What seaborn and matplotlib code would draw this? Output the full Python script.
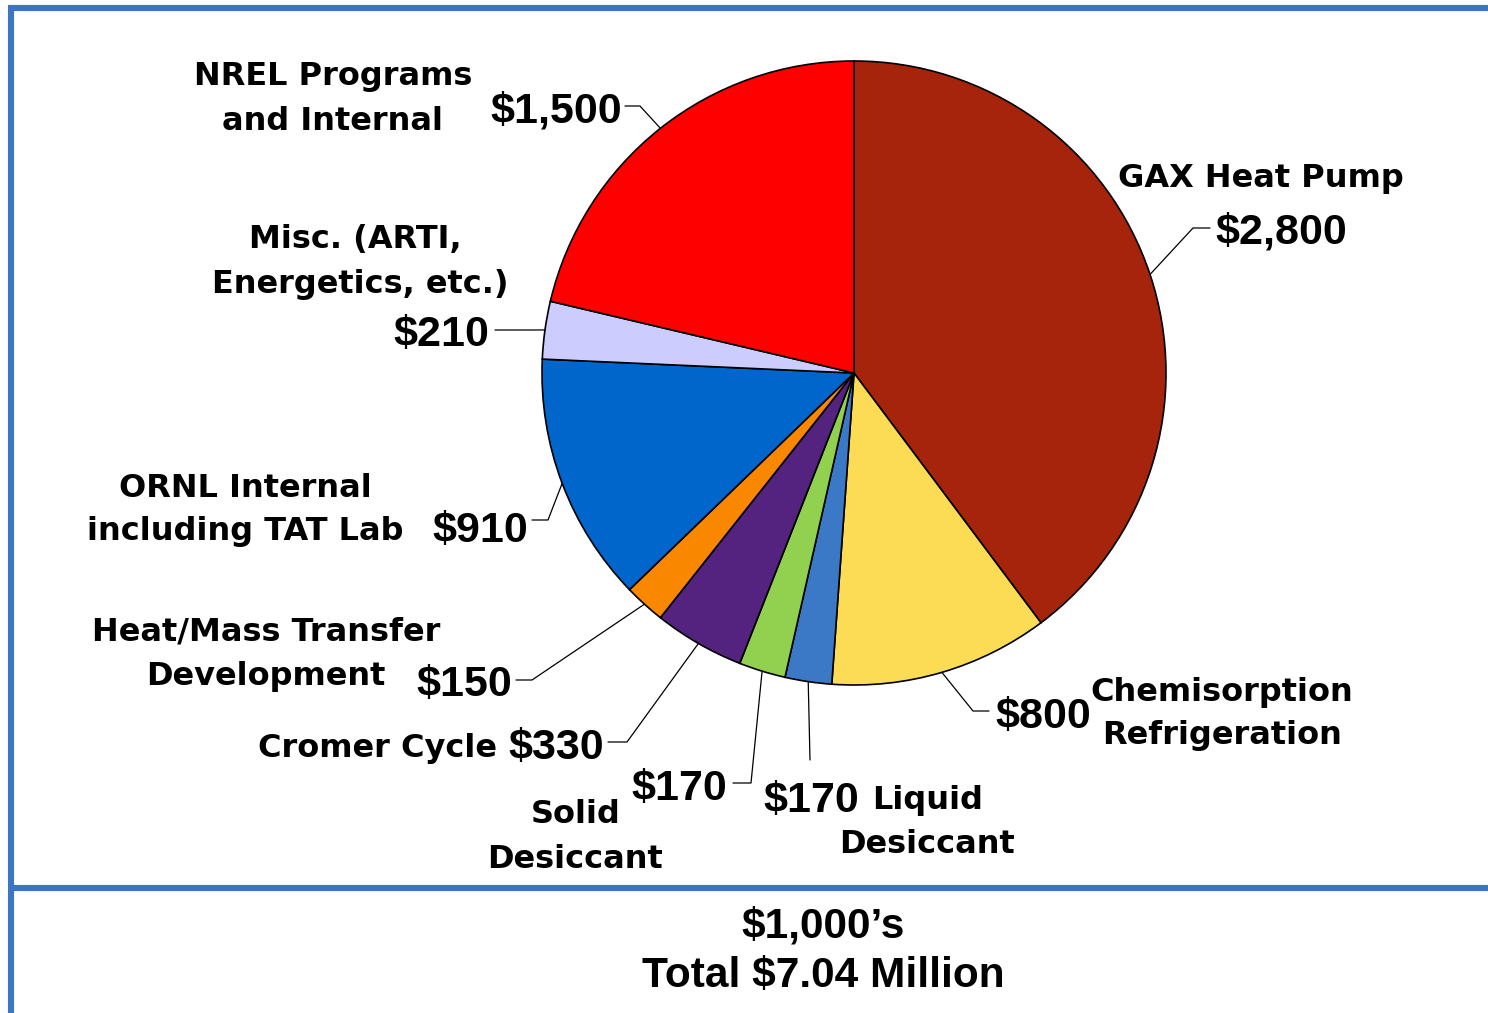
import numpy as np
import matplotlib
matplotlib.use("Agg")
import matplotlib.pyplot as plt
import seaborn as sns

# --- data (in $1,000's) ---
categories = ["GAX Heat Pump", "Chemisorption Refrigeration", "Liquid Desiccant",
              "Solid Desiccant", "Cromer Cycle", "Heat/Mass Transfer Development",
              "ORNL Internal including TAT Lab", "Misc. (ARTI, Energetics, etc.)",
              "NREL Programs and Internal"]
values = [2800, 800, 170, 170, 330, 150, 910, 210, 1500]
name_lines = [["GAX Heat Pump"],
              ["Chemisorption", "Refrigeration"],
              ["Liquid", "Desiccant"],
              ["Solid", "Desiccant"],
              ["Cromer Cycle"],
              ["Heat/Mass Transfer", "Development"],
              ["ORNL Internal", "including TAT Lab"],
              ["Misc. (ARTI,", "Energetics, etc.)"],
              ["NREL Programs", "and Internal"]]
colors = ["#A6240B", "#FDDC55", "#3B78C6", "#92D14F", "#54237F",
          "#F98800", "#0066CC", "#CCCCFF", "#FF0000"]
unit_text = "$1,000\u2019s"
total_text = "Total $7.04 Million"

# --- layout (pixel coords, y down) ---
W, H = 1488, 1013
cx, cy, r = 854, 373, 312
# value label: x, baseline, ha ; leader: elbow, end
value_pos = [(1215, 243, "left"), (995, 728, "left"), (763, 812, "left"),
             (727, 800, "right"), (604, 759, "right"), (512, 696, "right"),
             (528, 542, "right"), (489, 346, "right"), (622, 122, "right")]
leader_pts = [[(1193, 228), (1210, 228)], [(973, 711), (989, 711)],
              [(810, 760), (810, 760)], [(751, 783), (733, 783)],
              [(627, 742), (608, 742)], [(532, 680), (516, 680)],
              [(548, 520), (532, 520)], [(520, 330), (495, 330)],
              [(640, 106), (625, 106)]]
# name lines: (x, baseline) per line, ha
name_pos = [([(1261, 187)], "center"),
            ([(1222, 701), (1222, 744)], "center"),
            ([(928, 809), (927, 853)], "center"),
            ([(576, 823), (575, 868)], "center"),
            ([(497, 757)], "right"),
            ([(266, 640), (266, 685)], "center"),
            ([(245, 497), (245, 540)], "center"),
            ([(355, 248), (360, 293)], "center"),
            ([(333, 85), (333, 130)], "center")]

sns.set_theme(style="white")
plt.rcParams["font.family"] = ["DejaVu Sans"]
plt.rcParams["text.color"] = "black"

fig = plt.figure(figsize=(W / 100, H / 100), dpi=100)
ax = fig.add_axes([0, 0, 1, 1])
pal = sns.color_palette(colors)

wedges, _ = ax.pie(values, colors=pal, startangle=-90, counterclock=True,
                   center=(cx, cy), radius=r, frame=True,
                   wedgeprops=dict(edgecolor="black", linewidth=1.2))
ax.set_xlim(0, W)
ax.set_ylim(H, 0)
ax.set_aspect("equal")
ax.axis("off")

for i, w in enumerate(wedges):
    mid = np.deg2rad((w.theta1 + w.theta2) / 2)
    x0, y0 = cx + r * np.cos(mid), cy + r * np.sin(mid)
    (ex, ey), (fx, fy) = leader_pts[i]
    ax.plot([x0, ex, fx], [y0, ey, fy], color="black", lw=0.9, zorder=3)

    vx, vy, vha = value_pos[i]
    ax.text(vx, vy, "$" + f"{values[i]:,}", ha=vha, va="baseline", color="black",
            fontsize=31, fontweight="bold", family="Liberation Sans")
    pts, nha = name_pos[i]
    for line, (nx, ny) in zip(name_lines[i], pts):
        ax.text(nx, ny, line, ha=nha, va="baseline", fontsize=23, color="black",
                fontweight="bold", family="DejaVu Sans")

# bottom caption
ax.text(823, 937, unit_text, ha="center", va="baseline", fontsize=30.5,
        color="black", fontweight="bold", family="Liberation Sans")
ax.text(823, 987, total_text, ha="center", va="baseline", fontsize=30.5,
        color="black", fontweight="bold", family="Liberation Sans")

# blue frame lines
frame_c = "#3A76C4"
ax.plot([11, 11], [5, H], color=frame_c, lw=4.4, solid_capstyle="butt", clip_on=False)
ax.plot([8, W], [8, 8], color=frame_c, lw=4.4, solid_capstyle="butt", clip_on=False)
ax.plot([14, W], [888, 888], color=frame_c, lw=4.4, solid_capstyle="butt", clip_on=False)

fig.savefig("out.png", dpi=100)
